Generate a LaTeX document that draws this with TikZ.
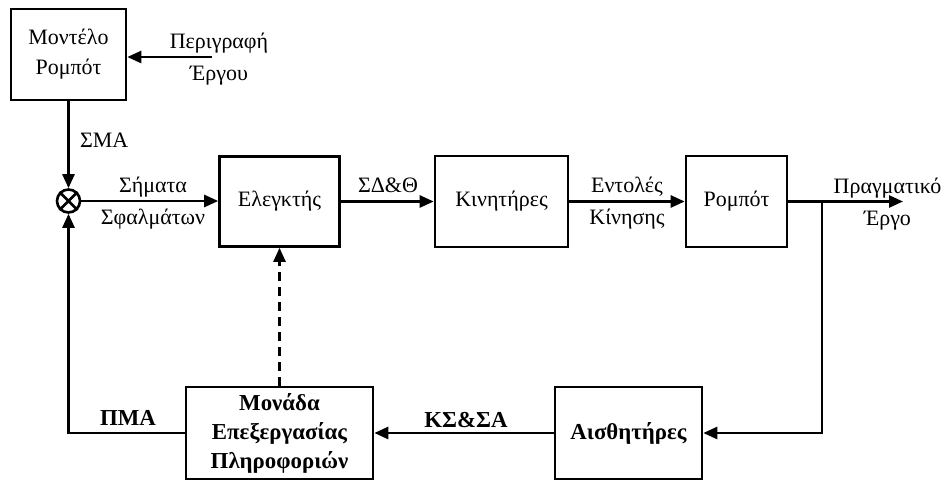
\documentclass[tikz,border=0pt]{standalone}
\usepackage{fontspec}
\setmainfont{Liberation Serif}
\usetikzlibrary{arrows.meta, positioning}

\begin{document}
\begin{tikzpicture}[
    blk/.style={draw, line width=1.5pt, align=center, inner sep=2pt,
                font=\fontsize{12.5}{17}\selectfont},
    bblk/.style={blk, font=\fontsize{13}{16.5}\selectfont\bfseries},
    lbl/.style={align=center, inner sep=1pt, font=\fontsize{12.5}{17}\selectfont},
    blbl/.style={lbl, font=\fontsize{13}{17}\selectfont\bfseries},
    ln/.style={line width=1.5pt},
    arr/.style={ln, -{Triangle[length=2.8mm, width=2.4mm]}}
]
\useasboundingbox (0,0) rectangle (19.02,-9.62);

% --- Top row ---
\node[blk, minimum width=2.3cm, minimum height=1.82cm] (model) at (1.37,-1.09) {Μοντέλο\\Ρομπότ};
\node[circle, draw, line width=1.5pt, minimum size=0.46cm, inner sep=0pt] (sum) at (1.37,-4.02) {};
\draw[ln] (sum.45) -- (sum.225) (sum.135) -- (sum.315);

\node[blk, minimum width=2.4cm, minimum height=1.8cm] (ctrl) at (5.59,-4.03) {Ελεγκτής};
\node[blk, minimum width=2.66cm, minimum height=1.82cm] (motors) at (10.03,-4.03) {Κινητήρες};
\node[blk, minimum width=2.02cm, minimum height=1.82cm] (robot) at (14.73,-4.03) {Ρομπότ};

% --- Bottom row ---
\node[bblk, minimum width=2.94cm, minimum height=1.84cm] (sensors) at (12.57,-8.66) {Αισθητήρες};
\node[bblk, minimum width=3.74cm, minimum height=1.84cm] (proc) at (5.59,-8.66) {Μονάδα\\Επεξεργασίας\\Πληροφοριών};

% --- Labels ---
\node[lbl] (task) at (4.38,-1.18) {Περιγραφή\\[1pt]Έργου};
\node[lbl, anchor=west] (sma) at (1.56,-2.8) {ΣΜΑ};
\node[lbl] (err) at (3.06,-4.06) {Σήματα\\[1pt]Σφαλμάτων};
\node[lbl] (sdt) at (7.76,-3.7) {ΣΔ\&Θ};
\node[lbl] (cmd) at (12.54,-4.06) {Εντολές\\[1pt]Κίνησης};
\node[lbl] (real) at (17.75,-4.08) {Πραγματικό\\[1pt]Έργο};
\node[blbl] (kssa) at (9.32,-8.4) {ΚΣ\&ΣΑ};
\node[blbl] (pma) at (2.56,-8.36) {ΠΜΑ};

% --- Connectors ---
\coordinate (taskin) at (4.24,-1.14);
\coordinate (split) at (16.44,-4.03);
\coordinate (out) at (18.06,-4.03);
\draw[arr] (taskin) -- (taskin -| model.east);
\draw[arr] (model.south) -- (sum.north);
\draw[arr] (sum.east) -- (sum.east -| ctrl.west);
\draw[arr] (ctrl) -- (motors);
\draw[arr] (motors) -- (robot);
\draw[arr] (robot.east) -- (out);
\draw[arr] (split) |- (sensors.east);
\draw[arr] (sensors) -- (proc);
\draw[arr] (proc.west) -| (sum.south);
\draw[arr, dash pattern=on 5pt off 3.5pt] (proc.north) -- (ctrl.south);

\end{tikzpicture}
\end{document}
